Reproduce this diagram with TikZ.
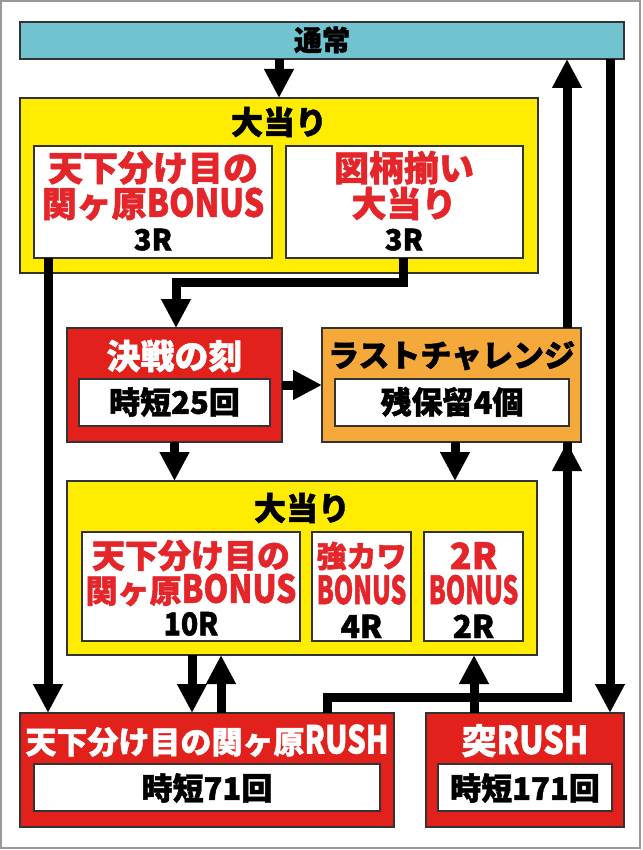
\documentclass[tikz,border=0pt]{standalone}
\usepackage{fontspec}
\usepackage{graphicx}
\setmainfont{Noto Sans CJK JP}[BoldFeatures={FakeBold=1.5}]
\usetikzlibrary{arrows.meta}
\definecolor{teal1}{HTML}{70C3CF}
\definecolor{yel1}{HTML}{FFEC00}
\definecolor{red1}{HTML}{E2211C}
\definecolor{org1}{HTML}{F6A93B}
\definecolor{rtxt}{HTML}{E4262B}
\definecolor{bord}{HTML}{333333}
\newcommand{\jfs}[1]{\fontsize{#1}{#1}\selectfont}
\newcommand{\lat}[3]{{\jfs{#1}\smash{\scalebox{#2}[1]{#3}}}}
\tikzset{
  box/.style={draw=bord, line width=1.1pt, inner sep=0pt, outer sep=0pt},
  tx/.style={inner sep=0pt, outer sep=0pt, anchor=base},
  arr/.style={line width=9pt, line join=miter, -{Triangle[width=28pt,length=29pt]}},
  ln/.style={line width=9pt, line join=miter},
}
\begin{document}
\begin{tikzpicture}[x=1pt,y=-1pt]
\useasboundingbox (0,0) rectangle (642,850);
\fill[white] (0,0) rectangle (642,850);
\draw[gray!80, line width=2pt] (1,1) rectangle (640,848);

% boxes
\node[box, fill=teal1, minimum width=604pt, minimum height=37pt] (bar) at (322,40.5) {};
\node[box, fill=yel1, minimum width=518pt, minimum height=175pt] (Y1) at (279,185.5) {};
\node[box, fill=white, minimum width=238pt, minimum height=112pt] (W1a) at (153,202) {};
\node[box, fill=white, minimum width=237pt, minimum height=112pt] (W1b) at (404.5,202) {};
\node[box, fill=red1, minimum width=215pt, minimum height=114pt] (R1) at (174.5,385) {};
\node[box, fill=white, minimum width=191pt, minimum height=47pt] (W2a) at (174.5,402.5) {};
\node[box, fill=org1, minimum width=259pt, minimum height=114pt] (O1) at (451.5,385) {};
\node[box, fill=white, minimum width=234pt, minimum height=47pt] (W2b) at (452,402.5) {};
\node[box, fill=yel1, minimum width=470pt, minimum height=174pt] (Y2) at (302,568) {};
\node[box, fill=white, minimum width=218pt, minimum height=109pt] (W3a) at (191,586.5) {};
\node[box, fill=white, minimum width=99pt, minimum height=109pt] (W3b) at (361.5,586.5) {};
\node[box, fill=white, minimum width=99pt, minimum height=109pt] (W3c) at (473.5,586.5) {};
\node[box, fill=red1, minimum width=374pt, minimum height=114pt] (R2) at (207,770) {};
\node[box, fill=white, minimum width=346pt, minimum height=47pt] (W4a) at (207,787.5) {};
\node[box, fill=red1, minimum width=198pt, minimum height=114pt] (R3) at (525,770) {};
\node[box, fill=white, minimum width=174pt, minimum height=47pt] (W4b) at (525,787.5) {};

% texts
\node[tx, font=\bfseries\jfs{28}] (tBar) at (322,50.6) {通常};
\node[tx, font=\bfseries\jfs{32}] (tY1) at (279,134.2) {大当り};
\node[tx, font=\bfseries\jfs{35}, text=rtxt] (t1a1) at (153,181) {天下分け目の};
\node[tx, font=\bfseries\jfs{35}, text=rtxt] (t1a2) at (153,216.8) {関ヶ原\lat{38.5}{0.84}{BONUS}};
\node[tx, font=\bfseries\jfs{29}] (t1a3) at (153,250.3) {3R};
\node[tx, font=\bfseries\jfs{35}, text=rtxt] (t1b1) at (404,181) {図柄揃い};
\node[tx, font=\bfseries\jfs{35}, text=rtxt] (t1b2) at (404,216.8) {大当り};
\node[tx, font=\bfseries\jfs{29}] (t1b3) at (404,250.3) {3R};

\node[tx, font=\bfseries\jfs{34}, text=white] (tR1) at (174.5,368.9) {決戦の刻};
\node[tx, font=\bfseries\jfs{31}] (tW2a) at (174.5,413.8) {時短25回};
\node[tx, font=\bfseries\jfs{31}] (tO1) at (451.5,366.8) {ラストチャレンジ};
\node[tx, font=\bfseries\jfs{31}] (tW2b) at (452,413.8) {残保留4個};

\node[tx, font=\bfseries\jfs{32}] (tY2) at (302,520.2) {大当り};
\node[tx, font=\bfseries\jfs{33}, text=rtxt] (t3a1) at (191,567.8) {天下分け目の};
\node[tx, font=\bfseries\jfs{32}, text=rtxt] (t3a2) at (191,602.8) {関ヶ原\lat{38.5}{0.82}{BONUS}};
\node[tx, font=\bfseries\jfs{31.5}] (t3a3) at (191,635.4) {\scalebox{0.9}[1]{10R}};
\node[tx, font=\bfseries\jfs{30}, text=rtxt] (t3b1) at (361.5,567.4) {強カワ};
\node[tx, font=\bfseries\jfs{38.5}, text=rtxt] (t3b2) at (361.5,604) {\smash{\scalebox{0.64}[1]{BONUS}}};
\node[tx, font=\bfseries\jfs{31.5}] (t3b3) at (361.5,638) {4R};
\node[tx, font=\bfseries\jfs{36}, text=rtxt] (t3c1) at (473.5,569) {2R};
\node[tx, font=\bfseries\jfs{38.5}, text=rtxt] (t3c2) at (473.5,604) {\smash{\scalebox{0.64}[1]{BONUS}}};
\node[tx, font=\bfseries\jfs{31.5}] (t3c3) at (473.5,638) {2R};

\node[tx, font=\bfseries\jfs{31}, text=white] (tR2) at (207,753.5) {天下分け目の関ヶ原\lat{38.5}{0.76}{RUSH}};
\node[tx, font=\bfseries\jfs{31}] (tW4a) at (207,799.8) {時短71回};
\node[tx, font=\bfseries\jfs{35}, text=white] (tR3) at (525,754) {突\lat{38.5}{0.83}{RUSH}};
\node[tx, font=\bfseries\jfs{31}] (tW4b) at (525,799.8) {時短171回};

% helper coordinates
\coordinate (x48) at (48,0);
\coordinate (x176) at (176,0);
\coordinate (x192) at (192,0);
\coordinate (x221) at (221,0);
\coordinate (x279) at (279,0);
\coordinate (x327) at (327,0);
\coordinate (x403) at (403,0);
\coordinate (x455) at (455,0);
\coordinate (x474) at (474,0);
\coordinate (x567) at (567,0);
\coordinate (x610) at (610,0);
\coordinate (y282) at (0,282);
\coordinate (y697) at (0,697);

% connectors
\draw[arr] (bar.south -| x279) -- (Y1.north -| x279);
\draw[arr] (W1a.south -| x48) -- (R2.north -| x48);
\draw[arr] (W1b.south -| x403) -- (x403 |- y282) -- (x176 |- y282) -- (R1.north -| x176);
\draw[arr] (R1.east) -- (O1.west);
\draw[arr] (R1.south) -- (Y2.north -| R1.south);
\draw[arr] (O1.south -| x455) -- (Y2.north -| x455);
\draw[arr] (Y2.south -| x192) -- (R2.north -| x192);
\draw[arr] (R2.north -| x221) -- (Y2.south -| x221);
\draw[ln] (R2.north -| x327) -- (x327 |- y697) -- (x567 |- y697) -- (O1.south -| x567);
\draw[arr] (x567 |- y697) -- (O1.south -| x567);
\draw[arr] (R3.north -| x474) -- (Y2.south -| x474);
\draw[arr] (O1.north -| x567) -- (bar.south -| x567);
\draw[arr] (bar.south -| x610) -- (R3.north -| x610);
\end{tikzpicture}
\end{document}
